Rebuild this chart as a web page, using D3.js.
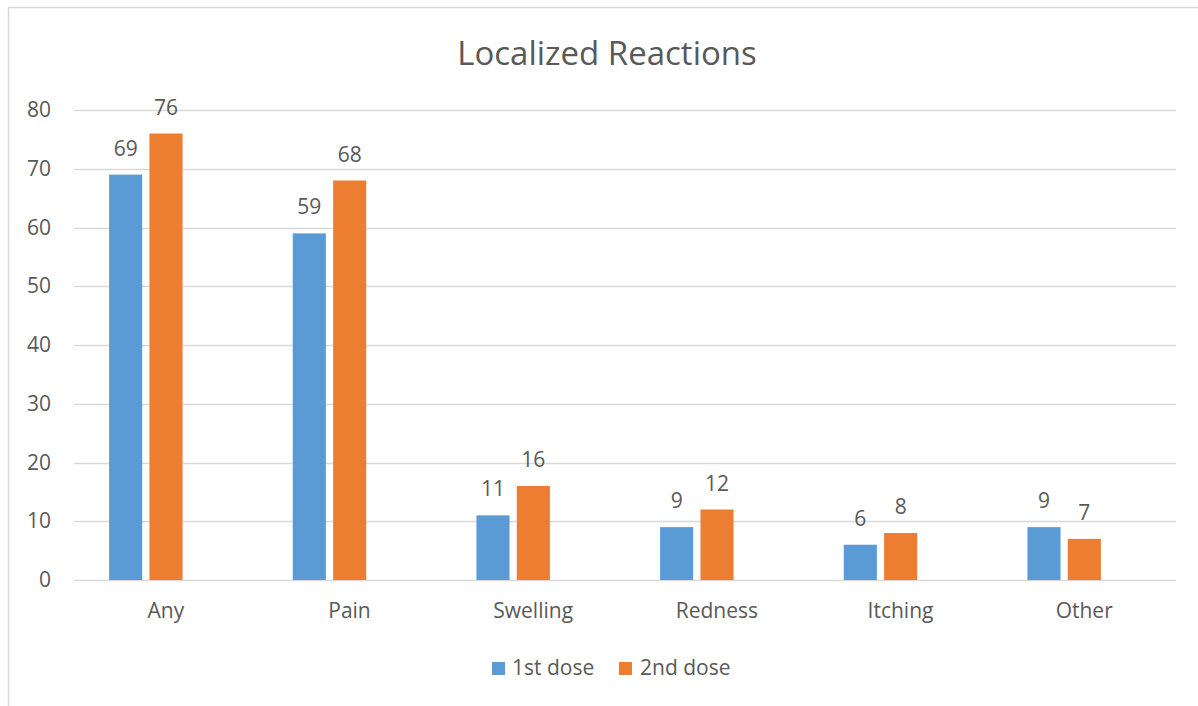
<!DOCTYPE html>
<html>
<head>
<meta charset="utf-8">
<script src="https://cdn.jsdelivr.net/npm/d3@7"></script>
<style>
  html, body { margin: 0; padding: 0; background: #fff; }
  svg { display: block; }
  text { font-family: "Open Sans", "Noto Sans", sans-serif; fill: #595959; }
</style>
</head>
<body>
<svg id="chart" width="1198" height="706"></svg>
<script>
const title = "Localized Reactions";
const categories = ["Any", "Pain", "Swelling", "Redness", "Itching", "Other"];
const seriesNames = ["1st dose", "2nd dose"];
const firstDose = [69, 59, 11, 9, 6, 9];
const secondDose = [76, 68, 16, 12, 8, 7];
const yTicks = [0, 10, 20, 30, 40, 50, 60, 70, 80];
const colors = ["#5b9bd5", "#ed7d31"];

const values = [firstDose, secondDose];
const svg = d3.select("#chart");

// outer frame
svg.append("rect")
  .attr("x", 8.5).attr("y", 7.5)
  .attr("width", 1300).attr("height", 800)
  .attr("fill", "none").attr("stroke", "#d9d9d9").attr("stroke-width", 1.5);

const plotLeft = 74, plotRight = 1176;
const y = d3.scaleLinear().domain([0, 80]).range([580, 110]);

// category label scale
const xLabel = d3.scaleBand().domain(categories).range([plotLeft, plotRight]);
// bar group scale (groups sit slightly left of label centres as in the reference)
const xGroup = d3.scaleBand().domain(categories).range([plotLeft - 20, plotRight - 20])
  .paddingInner(0.6).paddingOuter(0.3);
const xSeries = d3.scaleBand().domain(d3.range(seriesNames.length))
  .range([0, xGroup.bandwidth()]).paddingInner(0.18);

// gridlines
svg.append("g").selectAll("line").data(yTicks).join("line")
  .attr("x1", plotLeft).attr("x2", plotRight)
  .attr("y1", d => Math.round(y(d)) + 0.5).attr("y2", d => Math.round(y(d)) + 0.5)
  .attr("stroke", "#d9d9d9").attr("stroke-width", 1.5);

// y axis labels
const yAxis = d3.axisLeft(y).tickValues(yTicks).tickSize(0).tickPadding(0);
const gy = svg.append("g").attr("transform", `translate(51,0)`).call(yAxis);
gy.select(".domain").remove();
gy.selectAll("text").style("font-size", "21px").attr("fill", "#595959")
  .style("font-family", "'Open Sans', sans-serif");

// x axis labels
const xAxis = d3.axisBottom(xLabel).tickSize(0).tickPadding(0);
const gx = svg.append("g").attr("transform", `translate(0,603)`).call(xAxis);
gx.select(".domain").remove();
gx.selectAll("text").style("font-size", "21px").attr("fill", "#595959")
  .style("font-family", "'Open Sans', sans-serif");

// bars
const groups = svg.append("g").selectAll("g").data(categories).join("g")
  .attr("transform", d => `translate(${xGroup(d)},0)`);

groups.selectAll("rect").data((c, i) => values.map((v, s) => ({ s, v: v[i] }))).join("rect")
  .attr("x", d => xSeries(d.s))
  .attr("width", xSeries.bandwidth())
  .attr("y", d => y(d.v))
  .attr("height", d => y(0) - y(d.v))
  .attr("fill", d => colors[d.s]);

groups.selectAll("text.lbl").data((c, i) => values.map((v, s) => ({ s, v: v[i] }))).join("text")
  .attr("class", "lbl")
  .attr("x", d => xSeries(d.s) + xSeries.bandwidth() / 2)
  .attr("y", d => y(d.v) - 19)
  .attr("text-anchor", "middle")
  .style("font-size", "21px")
  .text(d => d.v);

// title
svg.append("text")
  .attr("x", 607).attr("y", 65)
  .attr("text-anchor", "middle")
  .style("font-size", "33px")
  .text(title);

// legend
const legendItems = [{ x: 492, tx: 512 }, { x: 619, tx: 640 }];
const lg = svg.append("g");
seriesNames.forEach((name, i) => {
  lg.append("rect").attr("x", legendItems[i].x).attr("y", 662)
    .attr("width", 13).attr("height", 13).attr("fill", colors[i]);
  lg.append("text").attr("x", legendItems[i].tx).attr("y", 675)
    .style("font-size", "21px").text(name);
});
</script>
</body>
</html>
